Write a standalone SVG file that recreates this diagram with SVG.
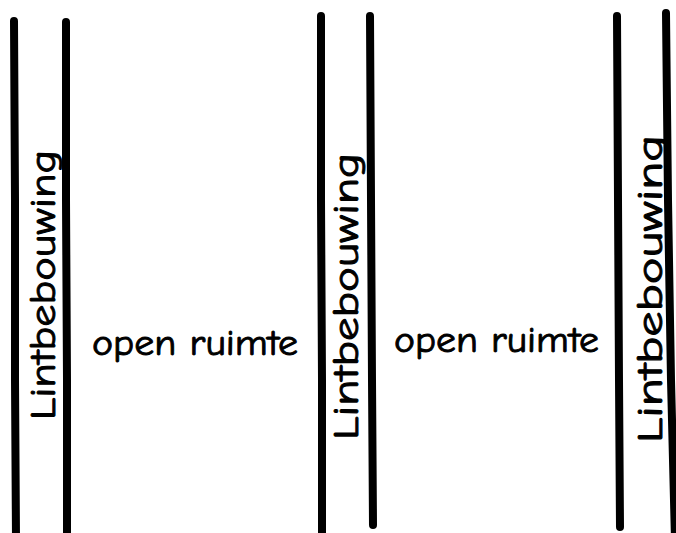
<svg xmlns="http://www.w3.org/2000/svg" width="676" height="533" viewBox="0 0 676 533">
<style>
.wall{fill:none;stroke:#000;stroke-width:8;stroke-linecap:round;stroke-linejoin:round}
.lbl{font-family:"Comic Neue","Noto Sans","DejaVu Sans",sans-serif;font-size:36px;fill:#000;stroke:#000;stroke-width:0.9}
</style>
<rect width="676" height="533" fill="#fff"/>
<g id="connectors">
<path class="wall" d="M14,21 L15,200 L15,380 L16,540"/>
<path class="wall" d="M66,22 L66,200 L67,380 L67,540"/>
<path class="wall" d="M321,16 L321,200 L322,380 L322,540"/>
<path class="wall" d="M370,16 L371,200 L372,380 L373,525"/>
<path class="wall" d="M617,16 L618,200 L619,380 L620,527"/>
<path class="wall" d="M666,13 L668,200 L671,380 L675,540"/>
</g>
<g id="lint1"><text class="lbl" transform="translate(55,420) rotate(-90)" textLength="270" lengthAdjust="spacingAndGlyphs">Lintbebouwing</text></g>
<g id="lint2"><text class="lbl" transform="translate(358,440) rotate(-90)" textLength="287" lengthAdjust="spacingAndGlyphs">Lintbebouwing</text></g>
<g id="lint3"><text class="lbl" transform="translate(662,443) rotate(-90)" textLength="308" lengthAdjust="spacingAndGlyphs">Lintbebouwing</text></g>
<g id="open1"><text class="lbl" x="92" y="355" textLength="206" lengthAdjust="spacingAndGlyphs">open ruimte</text></g>
<g id="open2"><text class="lbl" x="394" y="352" textLength="205" lengthAdjust="spacingAndGlyphs">open ruimte</text></g>
</svg>
